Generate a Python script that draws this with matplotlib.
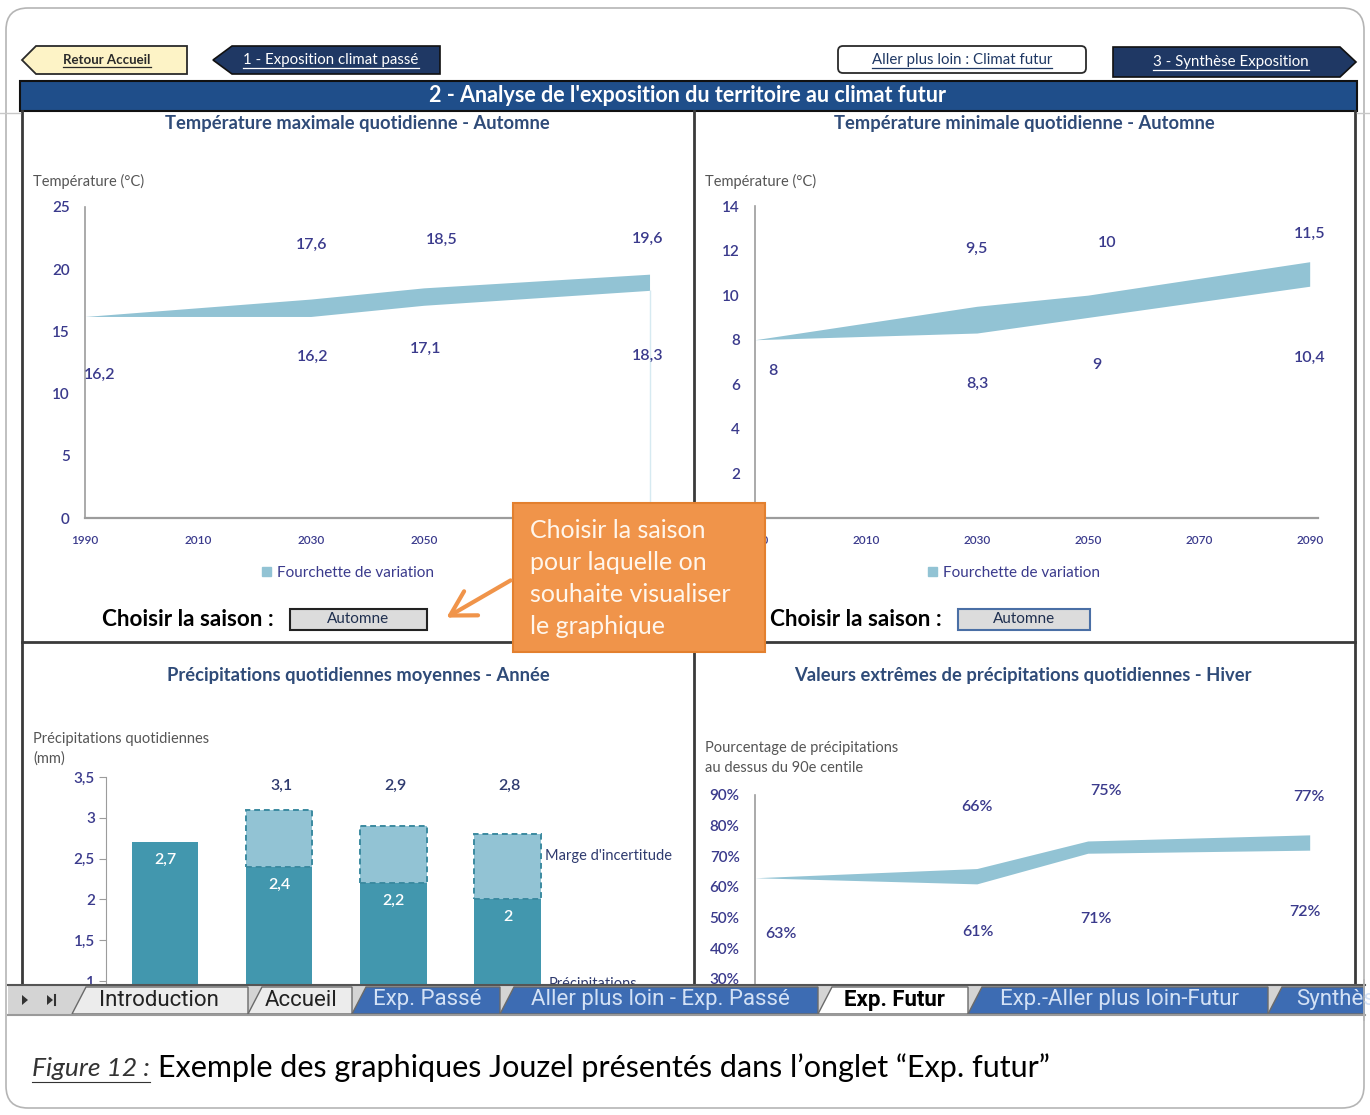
import matplotlib.pyplot as plt
from matplotlib.patches import Polygon, Rectangle, FancyBboxPatch, Patch, FancyArrowPatch

W, H = 1370, 1115

# temperature bands (°C), autumn
years = [1990, 2030, 2050, 2090]
tmax_low = [16.2, 16.2, 17.1, 18.3]
tmax_high = [16.2, 17.6, 18.5, 19.6]
tmin_low = [8, 8.3, 9, 10.4]
tmin_high = [8, 9.5, 10, 11.5]
xtick_years = [1990, 2010, 2030, 2050, 2070, 2090]

# mean daily precipitation (mm), year
precip_base = [2.7, 2.4, 2.2, 2.0]
precip_top = [2.7, 3.1, 2.9, 2.8]

# share of precipitation above the 90th centile (%), winter
extreme_low = [63, 61, 71, 72]
extreme_high = [63, 66, 75, 77]

tabs = ["Introduction", "Accueil", "Exp. Passé", "Aller plus loin - Exp. Passé",
        "Exp. Futur", "Exp.-Aller plus loin-Futur", "Synthèse"]

FONT = ['Lato', 'DejaVu Sans']
NARROW = ['Liberation Sans Narrow', 'Roboto', 'DejaVu Sans']
BAND = '#92c3d4'
TEAL = '#4297ae'
NAVY = '#1f3864'
TITLE_C = '#2f4b78'
TICK_C = '#3a3a8c'
AXIS_C = '#9c9c9c'

plt.rcParams['font.family'] = FONT

fig = plt.figure(figsize=(W / 100, H / 100), dpi=100)
renderer = fig.canvas.get_renderer()


def px_axes(x0, y0, x1, y1, z=1):
    ax = fig.add_axes([x0 / W, 1 - y1 / H, (x1 - x0) / W, (y1 - y0) / H], zorder=z)
    ax.set_facecolor('none')
    return ax


def overlay(z):
    ax = fig.add_axes([0, 0, 1, 1], zorder=z)
    ax.set_xlim(0, W)
    ax.set_ylim(H, 0)
    ax.axis('off')
    ax.patch.set_alpha(0)
    return ax


def underline(ax, t, color, lw=0.9, gap=1):
    bb = t.get_window_extent(renderer)
    inv = ax.transData.inverted()
    (x0, y0), (x1, y1) = inv.transform([(bb.x0, bb.y0), (bb.x1, bb.y1)])
    ax.plot([x0, x1], [y0 + gap, y0 + gap], color=color, lw=lw)


def fmt(v):
    return f"{v:g}".replace('.', ',')


bg = overlay(0)
fg = overlay(5)

# outer frame
bg.add_patch(FancyBboxPatch((6, 8), 1358, 1100, boxstyle="round,pad=0,rounding_size=22",
                            fc='white', ec='#b5b5b5', lw=1.2))

# navigation buttons
bg.add_patch(Polygon([(22, 60), (36, 46), (187, 46), (187, 74), (36, 74)],
                     fc='#fdf3c6', ec='#2a2a2a', lw=1.3))
t = bg.text(107, 60, "Retour Accueil", ha='center', va='center', fontsize=9.5,
            fontweight='bold', color='#2a2a2a')
underline(bg, t, '#2a2a2a')
bg.add_patch(Polygon([(213, 60), (232, 46), (440, 46), (440, 74), (232, 74)],
                     fc=NAVY, ec='#111', lw=1.2))
t = bg.text(331, 60, "1 - Exposition climat passé", ha='center', va='center',
            fontsize=10.8, color='white')
underline(bg, t, 'white')
bg.add_patch(FancyBboxPatch((838, 46), 248, 27, boxstyle="round,pad=0,rounding_size=5",
                            fc='white', ec='#2a2a2a', lw=1.3))
t = bg.text(962, 60, "Aller plus loin : Climat futur", ha='center', va='center',
            fontsize=10.8, color=NAVY)
underline(bg, t, NAVY)
bg.add_patch(Polygon([(1113, 47), (1340, 47), (1356, 62), (1340, 77), (1113, 77)],
                     fc=NAVY, ec='#111', lw=1.2))
t = bg.text(1231, 62, "3 - Synthèse Exposition", ha='center', va='center',
            fontsize=10.8, color='white')
underline(bg, t, 'white')

# header band
bg.add_patch(Rectangle((20, 81), 1337, 30, fc='#1f4e8a', ec='#111', lw=1.5))
bg.text(688, 96, "2 - Analyse de l'exposition du territoire au climat futur",
        ha='center', va='center', fontsize=15.5, fontweight='bold', color='white')

# panel grid
for x in (22, 694, 1355):
    bg.plot([x, x], [111, 985], color='#3a3a3a', lw=2)
bg.plot([22, 1355], [642, 642], color='#3a3a3a', lw=2)
bg.plot([0, 20], [113, 113], color='#c8c8c8', lw=1)
bg.plot([1357, 1370], [113, 113], color='#c8c8c8', lw=1)

# panel titles and axis captions
titles = [(357, 123, "Température maximale quotidienne - Automne"),
          (1024, 123, "Température minimale quotidienne - Automne"),
          (358, 676, "Précipitations quotidiennes moyennes - Année"),
          (1023, 676, "Valeurs extrêmes de précipitations quotidiennes - Hiver")]
for x, y, s in titles:
    bg.text(x, y, s, ha='center', va='center', fontsize=13.2, fontweight='bold', color=TITLE_C)

ycap = dict(ha='left', va='center', fontsize=10.5, color='#555555')
bg.text(33, 181, "Température (°C)", **ycap)
bg.text(705, 181, "Température (°C)", **ycap)
bg.text(33, 739, "Précipitations quotidiennes", **ycap)
bg.text(33, 759, "(mm)", **ycap)
bg.text(705, 748, "Pourcentage de précipitations", **ycap)
bg.text(705, 768, "au dessus du 90e centile", **ycap)


def band_chart(ax, low, high, ylim, yticks, hi_off, lo_off, pct=False):
    ax.fill_between(years, low, high, color=BAND, lw=0)
    ax.set_ylim(*ylim)
    ax.set_yticks(yticks)
    if pct:
        ax.set_yticklabels([f"{v}%" for v in yticks])
    for s in ('top', 'right'):
        ax.spines[s].set_visible(False)
    ax.spines['left'].set_color(AXIS_C)
    ax.spines['bottom'].set_color(AXIS_C)
    ax.spines['left'].set_linewidth(1.2)
    ax.spines['bottom'].set_linewidth(1.6)
    ax.tick_params(axis='y', length=0, pad=11, labelsize=11, labelcolor=TICK_C)
    ax.tick_params(axis='x', length=0, pad=12, labelsize=8.5, labelcolor=TICK_C)
    for lbl in ax.get_xticklabels() + ax.get_yticklabels():
        lbl.set_fontweight('semibold')
    lab = (lambda v: f"{v:g}%") if pct else fmt
    kw = dict(textcoords='offset pixels', ha='center', va='center', fontsize=11.5,
              fontweight='semibold', color=TICK_C)
    for yr, v, off in zip(years, high, hi_off):
        if off is not None:
            ax.annotate(lab(v), (yr, v), xytext=off, **kw)
    for yr, v, off in zip(years, low, lo_off):
        ax.annotate(lab(v), (yr, v), xytext=off, **kw)


# maximum temperature
ax1 = px_axes(85, 207, 658, 518)
ax1.set_xlim(1990, 2091.5)
ax1.set_xticks(xtick_years)
band_chart(ax1, tmax_low, tmax_high, (0, 25), range(0, 26, 5),
           [None, (1, 54), (18, 48), (-2, 35)],
           [(15, -58), (2, -40), (2, -44), (-2, -66)])
ax1.vlines(years[-1], 0, tmax_low[-1], color='#d6eaf1', lw=1)

# minimum temperature
ax2 = px_axes(755, 206, 1318, 518)
ax2.set_xlim(1990, 2091.5)
ax2.set_xticks(xtick_years)
band_chart(ax2, tmin_low, tmin_high, (0, 14), range(2, 15, 2),
           [None, (0, 57), (19, 52), (0, 28)],
           [(18, -31), (1, -51), (9, -48), (0, -72)])

# extreme precipitation share
ax4 = px_axes(755, 795, 1318, 985)
ax4.set_xlim(1990, 2091.5)
ax4.set_xticks([])
band_chart(ax4, extreme_low, extreme_high, (28, 90), range(30, 91, 10),
           [None, (0, 62), (18, 50), (-1, 38)],
           [(26, -56), (1, -48), (8, -66), (-5, -62)], pct=True)
ax4.spines['bottom'].set_visible(False)

for ax, cx in ((ax1, 348), (ax2, 1014)):
    ax.legend(handles=[Patch(color=BAND, label='Fourchette de variation')], loc='center',
              bbox_to_anchor=(cx / W, 1 - 573 / H), bbox_transform=fig.transFigure,
              frameon=False, fontsize=11, labelcolor=TICK_C, handlelength=0.6,
              handleheight=0.6, handletextpad=0.4)

# season selectors
for x, bx, bw, ec in ((102, 290, 137, '#222222'), (770, 958, 132, '#4a6fa5')):
    bg.text(x, 620, "Choisir la saison :", ha='left', va='center', fontsize=16.2,
            fontweight='bold', color='black')
    bg.add_patch(Rectangle((bx, 609), bw, 21, fc='#dcdcdc', ec=ec, lw=1.5))
    bg.text(bx + bw / 2, 619, "Automne", ha='center', va='center', fontsize=11, color='#1f2f4f')

# mean precipitation bars
ax3 = px_axes(106, 777, 690, 985)
xs = range(len(precip_base))
margin = [t_ - b for t_, b in zip(precip_top, precip_base)]
ax3.bar(xs, precip_base, width=0.58, color=TEAL, lw=0)
ax3.bar(list(xs)[1:], margin[1:], bottom=precip_base[1:], width=0.58, color=BAND,
        edgecolor='#3b8aa0', lw=1.4, linestyle=(0, (3, 2)))
ax3.set_xlim(-0.52, 4.6)
ax3.set_ylim(0.951, 3.5)
ax3.set_xticks([])
ax3.set_yticks([1, 1.5, 2, 2.5, 3, 3.5])
ax3.set_yticklabels([fmt(v) for v in [1, 1.5, 2, 2.5, 3, 3.5]])
for s in ('top', 'right', 'bottom'):
    ax3.spines[s].set_visible(False)
ax3.spines['left'].set_color(AXIS_C)
ax3.tick_params(axis='y', length=5, color=AXIS_C, pad=3, labelsize=11, labelcolor=TICK_C)
for lbl in ax3.get_yticklabels():
    lbl.set_fontweight('semibold')
for x, b in zip(xs, precip_base):
    ax3.annotate(fmt(b), (x, b), xytext=(0, -18), textcoords='offset pixels',
                 ha='center', va='center', fontsize=11.5, fontweight='semibold', color='white')
for x, t_ in list(zip(xs, precip_top))[1:]:
    ax3.text(x + 0.02, 3.39, fmt(t_), ha='center', va='center', fontsize=11.5,
             fontweight='semibold', color='#2e3a6e')
ax3.text(3.33, 2.53, "Marge d'incertitude", ha='left', va='center', fontsize=10.5, color='#2e3a6e')
ax3.text(3.36, 0.965, "Précipitations", ha='left', va='center', fontsize=10.5,
         color='#2e3a6e', clip_on=False)

# callout box
fg.add_patch(Rectangle((513, 503), 252, 149, fc='#f0944a', ec='#e3802f', lw=1.5))
for i, line in enumerate(["Choisir la saison", "pour laquelle on",
                          "souhaite visualiser", "le graphique"]):
    fg.text(530, 531 + 32 * i, line, ha='left', va='center', fontsize=18, color='#fff6ec')
fg.add_patch(FancyArrowPatch((513, 579), (444, 619), arrowstyle='->,head_length=7,head_width=4',
                             color='#f0944a', lw=3, mutation_scale=2.5))

# sheet tabs
fg.add_patch(Rectangle((8, 985), 1357, 30, fc='#d4d4d4', ec='none'))
tab_x = [72, 248, 352, 500, 818, 968, 1268, 1420]
tab_cx = [159, 301, 427, 660, 894, 1120, 1296]
for i, name in enumerate(tabs):
    x0, x1 = tab_x[i], tab_x[i + 1]
    if name == "Exp. Futur":
        fc, tc, fw = 'white', 'black', 'bold'
    elif i < 2:
        fc, tc, fw = '#ececec', '#222222', 'normal'
    else:
        fc, tc, fw = '#3d6cb3', '#d3e1f5', 'normal'
    fg.add_patch(Polygon([(x0, 1014), (x0 + 14, 987), (x1, 987), (x1, 1014)],
                         fc=fc, ec='#6a6a6a', lw=1))
    last = i == len(tabs) - 1
    fg.text(tab_cx[i], 1000, name, ha='left' if last else 'center', va='center',
            fontsize=16, color=tc, fontweight=fw, family=NARROW)
fg.add_patch(Polygon([(22, 995), (28, 1000), (22, 1005)], fc='#333', ec='none'))
fg.add_patch(Polygon([(47, 995), (53, 1000), (47, 1005)], fc='#333', ec='none'))
fg.plot([55, 55], [995, 1005], color='#333', lw=1.5)
fg.plot([8, 1365], [985, 985], color='#555555', lw=1.5)
fg.plot([8, 1365], [1015, 1015], color='#9a9a9a', lw=1.5)
fg.add_patch(Rectangle((1365, 980), 10, 40, fc='white', ec='none'))
fg.plot([1364, 1364], [980, 1020], color='#b5b5b5', lw=1.2)

# caption
t = fg.text(32, 1068, "Figure 12 :", ha='left', va='center', fontsize=19, style='italic',
            fontweight='normal', color='#333333')
underline(fg, t, '#333333', lw=0.8, gap=2)
fg.text(158, 1068, "Exemple des graphiques Jouzel présentés dans l’onglet “Exp. futur”",
        ha='left', va='center', fontsize=22, color='black')

fig.savefig('out.png', dpi=100)
